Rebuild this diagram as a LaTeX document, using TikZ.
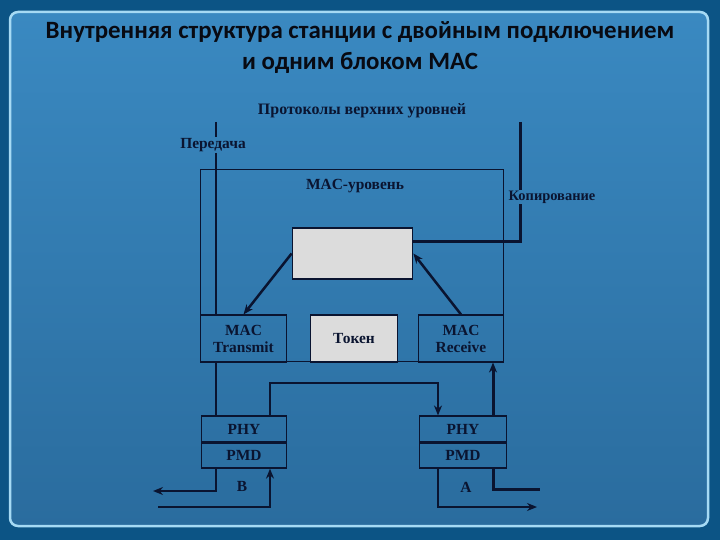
\documentclass[tikz,border=0pt]{standalone}
\usepackage{fontspec}
\setmainfont{Liberation Serif}
\newfontfamily\titlefont{Carlito}
\usetikzlibrary{arrows.meta,positioning}

\definecolor{ink}{HTML}{0A1430}
\definecolor{titleink}{HTML}{080A12}
\definecolor{boxgrey}{HTML}{DCDCDC}
\definecolor{outerblue}{HTML}{0C5485}
\definecolor{rim}{HTML}{A6DAF4}
\definecolor{skytop}{HTML}{3A89C1}
\definecolor{skymid}{HTML}{72B3DB}
\definecolor{skybot}{HTML}{2A6C9E}

\tikzset{
  lbl/.style={font=\bfseries\fontsize{15.5}{17}\selectfont, text=ink, inner sep=1pt},
  blk/.style={lbl, draw=ink, line width=1.2bp, inner sep=0pt, align=center},
  greyblk/.style={blk, fill=boxgrey},
  wire/.style={draw=ink, line width=1.3bp},
  bus/.style={draw=ink, line width=3bp},
  tip/.style={-{Stealth[length=10bp,width=8bp]}},
  title/.style={font=\titlefont\bfseries\fontsize{25}{29}\selectfont, text=titleink}
}

\begin{document}
\begin{tikzpicture}[x=1bp,y=-1bp]
  \useasboundingbox (0,0) rectangle (720,540);
  % background
  \fill[outerblue] (0,0) rectangle (720,540);
  \shade[top color=skytop, middle color=skymid, bottom color=skybot, rounded corners=8] (10,12) rectangle (708,526);
  \draw[rim, line width=2.5bp, rounded corners=8] (10,12) rectangle (708,526);

  \node[title] (title1) at (360,32) {Внутренняя структура станции с двойным подключением};
  \node[title] (title2) at (360,63) {и одним блоком MAC};

  % MAC level
  \node[blk, line width=1bp, minimum width=304, minimum height=193] (maclevel) at (352,265.5) {};
  \node[lbl] (maclabel) at (355,186) {MAC-уровень};
  \node[greyblk, minimum width=121, minimum height=51] (core) at (352.5,253.5) {};
  \node[blk, minimum width=87, minimum height=47] (transmit) at (243.5,338.5) {MAC\\Transmit};
  \node[greyblk, minimum width=88, minimum height=47] (token) at (354,338.5) {Токен};
  \node[blk, minimum width=86, minimum height=47] (receive) at (461,338.5) {MAC\\Receive};

  % physical layer
  \node[blk, minimum width=86, minimum height=26] (phyB) at (244,429) {PHY};
  \node[blk, minimum width=86, minimum height=25, below=0pt of phyB] (pmdB) {PMD};
  \node[blk, minimum width=88, minimum height=26] (phyA) at (463,429) {PHY};
  \node[blk, minimum width=88, minimum height=25, below=0pt of phyA] (pmdA) {PMD};
  \node[lbl] (portB) at (242,486) {B};
  \node[lbl] (portA) at (466,487) {A};

  % upper layers
  \node[lbl, font=\bfseries\fontsize{16}{18}\selectfont] (upper) at (362,111) {Протоколы верхних уровней};
  \node[lbl] (send) at (213,145) {Передача};
  \node[lbl, font=\bfseries\fontsize{14.5}{16}\selectfont] (copy) at (552,197) {Копирование};
  \coordinate (sendtop) at (216,122);
  \coordinate (copytop) at (520,122);
  \coordinate (copybend) at (520,242);

  \draw[wire] (sendtop) -- (sendtop |- send.north);
  \draw[wire] (sendtop |- send.south) -- (sendtop |- transmit.north);
  \draw[wire] (sendtop |- transmit.south) -- (sendtop |- phyB.north);
  \draw[bus] (copytop) -- (copytop |- copy.north);
  \draw[bus] (copytop |- copy.south) -- (copybend) -- (copybend -| core.east);

  \draw[bus, line width=2.5bp, tip] (core.west) -- (transmit.north);
  \draw[bus, line width=2.5bp, tip] (receive.north) -- (core.east);

  % ring connections
  \coordinate (bout) at (153,491);
  \coordinate (bin) at (158,507);
  \coordinate (ab) at (270,383);
  \coordinate (ba) at (438,383);
  \coordinate (aout) at (537,507);
  \coordinate (abend) at (493,489);
  \coordinate (athru) at (540,489);
  \draw[bus, line width=2.5bp, tip] (sendtop |- pmdB.south) -- (sendtop |- bout) -- (bout);
  \draw[wire, tip] (bin) -- (ab |- bin) -- (ab |- pmdB.south);
  \draw[wire, line width=2bp, tip] (ab |- phyB.north) -- (ab) -- (ba) -- (ba |- phyA.north);
  \draw[wire, tip] (ba |- pmdA.south) -- (ba |- aout) -- (aout);
  \draw[bus, tip] (abend |- phyA.north) -- (abend |- receive.south);
  \draw[bus] (abend |- pmdA.south) -- (abend) -- (athru);
\end{tikzpicture}
\end{document}
